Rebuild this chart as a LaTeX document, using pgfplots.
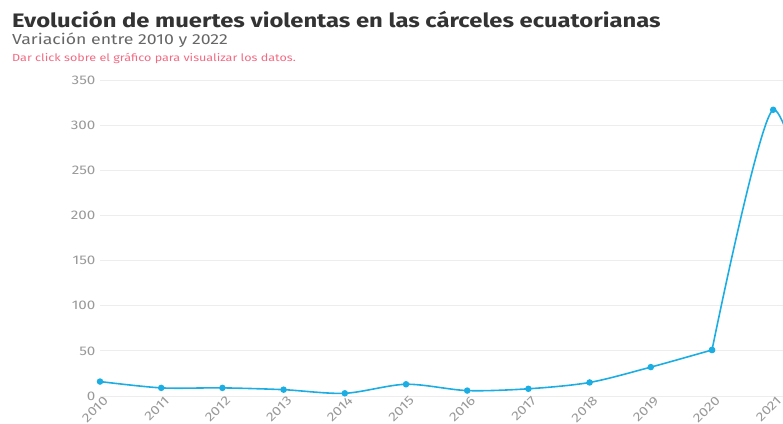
\documentclass[border=0pt]{standalone}
\usepackage{pgfplots}
\pgfplotsset{compat=1.18}
\usepackage{fontspec}
\setmainfont{Fira Sans}[FakeStretch=1.22]
\definecolor{serie}{HTML}{1CAEE2}
\definecolor{titulo}{HTML}{333333}
\definecolor{subt}{HTML}{666666}
\definecolor{nota}{HTML}{F26A82}
\definecolor{ticks}{HTML}{999999}
\begin{document}
\begin{tikzpicture}[x=1pt,y=1pt]
\clip (0,0) rectangle (783,423);
\path (0,0) rectangle (783,423);
\node[anchor=base west, inner sep=0pt, text=titulo, font=\fontsize{19.5}{20}\selectfont\bfseries] at (12,395) {Evolución de muertes violentas en las cárceles ecuatorianas};
\node[anchor=base west, inner sep=0pt, text=subt, font=\fontsize{14.5}{15}\selectfont] at (12,378) {Variación entre 2010 y 2022};
\node[anchor=base west, inner sep=0pt, text=nota, font=\fontsize{10.3}{11}\selectfont] at (12,361) {Dar click sobre el gráfico para visualizar los datos.};
\begin{axis}[at={(100pt,27pt)}, anchor=south west, scale only axis,
  width=683pt, height=316pt,
  xmin=2010, xmax=2021.16, ymin=0, ymax=350,
  axis line style={draw=none},
  ymajorgrids, grid style={color=black!7, line width=0.8pt},
  major tick length=0pt,
  ytick={0,50,...,350}, xtick={2010,...,2022},
  tick label style={text=ticks, font=\fontsize{12.5}{12}\selectfont},
  xticklabel style={rotate=45, anchor=north east, xshift=6pt, yshift=2pt},
  yticklabel style={xshift=-1pt},
  /pgf/number format/1000 sep={},
  /pgf/number format/assume math mode=true,
  clip=true]
\addplot[serie, line width=1.6pt, smooth, tension=0.5, mark=*, mark size=2.4pt, mark options={fill=serie, draw=serie}] coordinates {
(2010,16) (2011,9) (2012,9) (2013,7) (2014,3) (2015,13) (2016,6) (2017,8) (2018,15) (2019,32) (2020,51)};
\addplot[serie, line width=1.6pt, smooth, tension=0.4, mark=*, mark size=2.4pt, mark options={fill=serie, draw=serie}] coordinates {
(2020,51) (2021,317) (2022,110)};
\end{axis}
\end{tikzpicture}
\end{document}
